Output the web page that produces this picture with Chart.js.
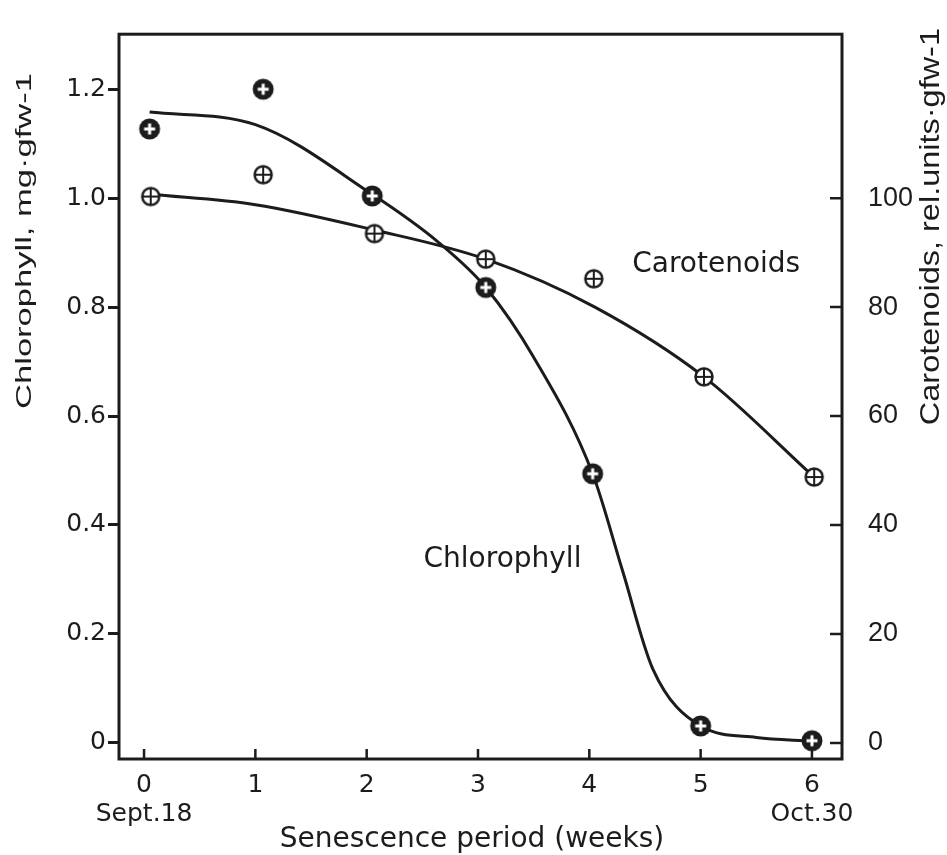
<!DOCTYPE html>
<html>
<head>
<meta charset="utf-8">
<script src="https://cdn.jsdelivr.net/npm/chart.js@4.4.1/dist/chart.umd.min.js"></script>
<style>
  html, body { margin: 0; padding: 0; background: #fff; }
</style>
</head>
<body>
<canvas id="senChart" width="947" height="855"></canvas>
<script>
// x ticks (weeks) and y ticks for both axes
const weeks = [0, 1, 2, 3, 4, 5, 6];
const chlTicks = [0, 0.2, 0.4, 0.6, 0.8, 1.0, 1.2];
const carTicks = [0, 20, 40, 60, 80, 100];

// measured points
const chlX = [0.05, 1.07, 2.05, 3.07, 4.03, 5.0, 6.0];
const chlY = [1.127, 1.200, 1.004, 0.836, 0.494, 0.031, 0.004];
const carX = [0.06, 1.07, 2.07, 3.07, 4.04, 5.03, 6.02];
const carY = [100.3, 104.3, 93.5, 88.8, 85.2, 67.2, 48.8];

// fitted curves
const chlFitX = [0.05, 1.0, 2.05, 2.65, 3.07, 3.5, 4.03, 4.3, 4.57, 5.0, 5.5, 6.0];
const chlFitY = [1.158, 1.135, 1.007, 0.918, 0.836, 0.708, 0.494, 0.315, 0.136, 0.031, 0.010, 0.003];
const carFitX = [0.06, 1.0, 2.06, 3.07, 4.05, 5.03, 6.02];
const carFitY = [100.7, 98.8, 94.2, 88.8, 80.0, 67.2, 48.8];

const ink = '#1c1c1c';

const toXY = (xs, ys) => xs.map((x, i) => ({ x: x, y: ys[i] }));

// circle-with-cross markers
function chlMarker() {
  const c = document.createElement('canvas');
  c.width = 24; c.height = 24;
  const g = c.getContext('2d');
  g.fillStyle = ink;
  g.beginPath(); g.arc(12, 12, 10.5, 0, Math.PI * 2); g.fill();
  g.strokeStyle = '#fff'; g.lineWidth = 3;
  g.beginPath();
  g.moveTo(6.5, 12); g.lineTo(17.5, 12);
  g.moveTo(12, 6.5); g.lineTo(12, 17.5);
  g.stroke();
  return c;
}
function carMarker() {
  const c = document.createElement('canvas');
  c.width = 22; c.height = 22;
  const g = c.getContext('2d');
  g.fillStyle = '#fff';
  g.strokeStyle = ink;
  g.lineWidth = 2.5;
  g.beginPath(); g.arc(11, 11, 8.5, 0, Math.PI * 2); g.fill(); g.stroke();
  g.lineWidth = 2;
  g.beginPath();
  g.moveTo(3, 11); g.lineTo(19, 11);
  g.moveTo(11, 3); g.lineTo(11, 19);
  g.stroke();
  return c;
}

// rotated, stretched axis title anchored at its top end
function sideTitle(ctx, text, x, yTop, size, stretch) {
  ctx.save();
  ctx.translate(x, yTop);
  ctx.rotate(-Math.PI / 2);
  ctx.scale(stretch, 1);
  ctx.font = size + 'px "Liberation Sans"';
  ctx.textAlign = 'right';
  ctx.textBaseline = 'middle';
  ctx.fillText(text, 0, 0);
  ctx.restore();
}

// frame, inward ticks, axis titles and curve labels
const decor = {
  id: 'decor',
  afterDraw(chart) {
    const { ctx, chartArea: a, scales } = chart;
    ctx.save();
    ctx.strokeStyle = ink;
    ctx.lineWidth = 3;
    ctx.strokeRect(a.left, a.top, a.right - a.left, a.bottom - a.top);

    ctx.lineWidth = 2.5;
    ctx.beginPath();
    weeks.forEach(v => {
      const px = scales.x.getPixelForValue(v);
      ctx.moveTo(px, a.bottom); ctx.lineTo(px, a.bottom - 10);
    });
    carTicks.forEach(v => {
      const py = scales.y2.getPixelForValue(v);
      ctx.moveTo(a.right, py); ctx.lineTo(a.right - 12, py);
    });
    ctx.stroke();

    ctx.fillStyle = ink;
    ctx.textBaseline = 'middle';

    ctx.font = '28px "DejaVu Sans"';
    ctx.textAlign = 'center';
    ctx.fillText('Senescence period (weeks)', 472, 840);
    ctx.fillText('Chlorophyll', scales.x.getPixelForValue(3.22), scales.y.getPixelForValue(0.336));
    ctx.fillText('Carotenoids', scales.x.getPixelForValue(5.14), scales.y.getPixelForValue(0.877));

    sideTitle(ctx, 'Chlorophyll, mg\u00b7gfw-1', 25, 73, 22, 1.57);
    sideTitle(ctx, 'Carotenoids, rel.units\u00b7gfw-1', 931, 28, 28, 1.16);

    ctx.restore();
  }
};

new Chart(document.getElementById('senChart'), {
  type: 'scatter',
  data: {
    datasets: [
      {
        label: 'Chlorophyll',
        data: toXY(chlX, chlY),
        yAxisID: 'y',
        pointStyle: chlMarker(),
        pointRadius: 10
      },
      {
        label: 'Carotenoids',
        data: toXY(carX, carY),
        yAxisID: 'y2',
        pointStyle: carMarker(),
        pointRadius: 9
      },
      {
        label: 'Chlorophyll fit',
        data: toXY(chlFitX, chlFitY),
        yAxisID: 'y',
        showLine: true,
        borderColor: ink,
        borderWidth: 3,
        pointRadius: 0,
        cubicInterpolationMode: 'monotone'
      },
      {
        label: 'Carotenoids fit',
        data: toXY(carFitX, carFitY),
        yAxisID: 'y2',
        showLine: true,
        borderColor: ink,
        borderWidth: 3,
        pointRadius: 0,
        cubicInterpolationMode: 'monotone'
      }
    ]
  },
  options: {
    responsive: false,
    animation: false,
    devicePixelRatio: 1,
    layout: { padding: { top: 16, left: 0, right: 0, bottom: 0 } },
    plugins: {
      legend: { display: false },
      tooltip: { enabled: false }
    },
    scales: {
      x: {
        type: 'linear',
        min: -0.225,
        max: 6.27,
        afterBuildTicks: s => { s.ticks = weeks.map(v => ({ value: v })); },
        afterFit: s => { s.height = 96; },
        grid: { display: false },
        border: { display: false },
        ticks: {
          padding: 4,
          color: ink,
          font: { family: 'DejaVu Sans', size: 25, lineHeight: 1.15 },
          maxRotation: 0,
          callback: v => v === 0 ? ['0', 'Sept.18'] : v === 6 ? ['6', 'Oct.30'] : String(v)
        }
      },
      y: {
        position: 'left',
        min: -0.0296,
        max: 1.301,
        afterBuildTicks: s => { s.ticks = chlTicks.map(v => ({ value: v })); },
        afterFit: s => { s.width = 119; },
        grid: { drawOnChartArea: false, tickLength: 11, tickWidth: 3, color: ink },
        border: { display: false },
        ticks: {
          padding: 2,
          color: ink,
          font: { family: 'DejaVu Sans', size: 25 },
          callback: v => v === 0 ? '0' : v.toFixed(1)
        }
      },
      y2: {
        position: 'right',
        min: -2.96,
        max: 130.1,
        afterBuildTicks: s => { s.ticks = carTicks.map(v => ({ value: v })); },
        afterFit: s => { s.width = 105; },
        grid: { display: false },
        border: { display: false },
        ticks: {
          padding: 18,
          color: ink,
          font: { family: 'Liberation Sans', size: 27 },
          callback: v => String(v)
        }
      }
    }
  },
  plugins: [decor]
});
</script>
</body>
</html>
